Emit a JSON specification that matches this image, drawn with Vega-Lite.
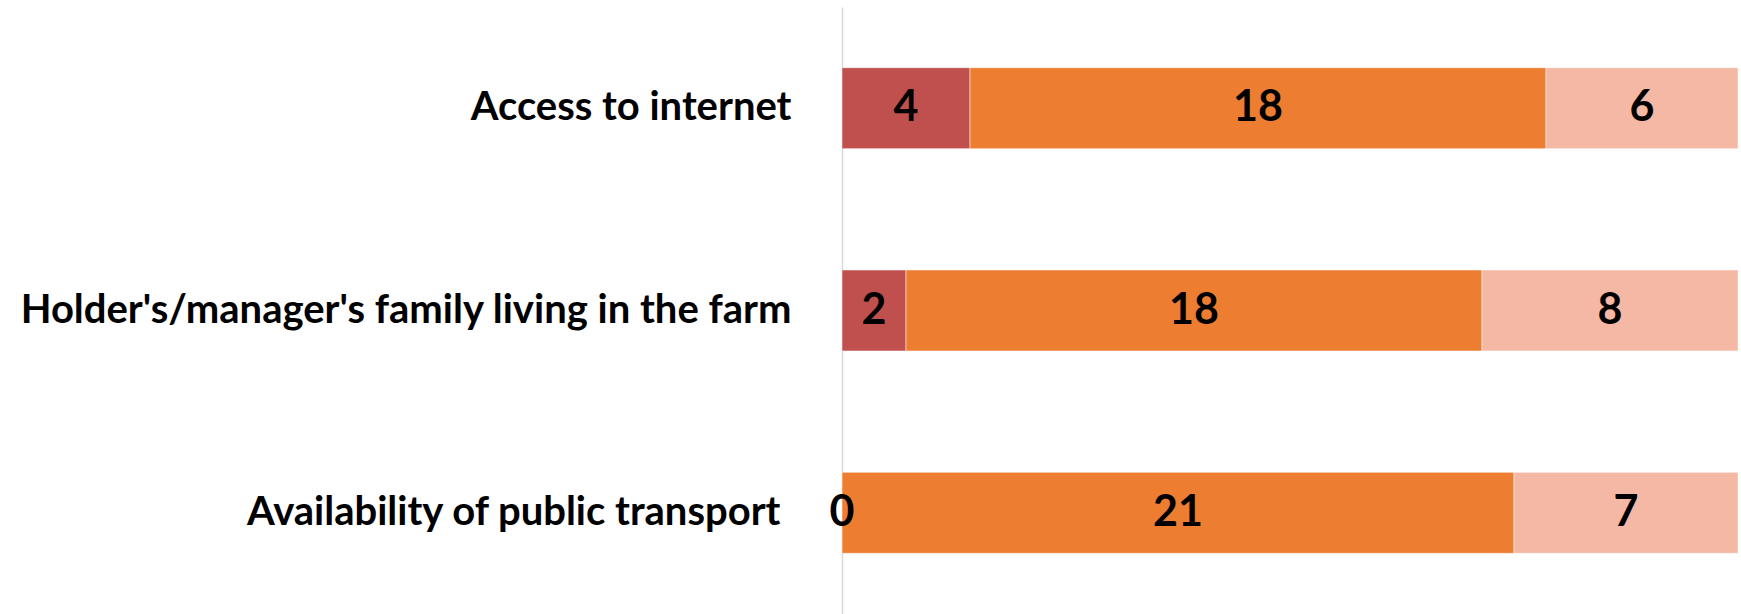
{
  "$schema": "https://vega.github.io/schema/vega-lite/v6.json",
  "autosize": "none",
  "width": 896,
  "height": 607,
  "padding": {"left": 842, "top": 7, "right": 3, "bottom": 0},
  "background": "#FFFFFF",
  "config": {"view": {"stroke": null}},
  "data": {
    "values": [
      {"item": "Access to internet", "series": "A", "order": 1, "value": 4},
      {"item": "Access to internet", "series": "B", "order": 2, "value": 18},
      {"item": "Access to internet", "series": "C", "order": 3, "value": 6},
      {"item": "Holder's/manager's family living in the farm", "series": "A", "order": 1, "value": 2},
      {"item": "Holder's/manager's family living in the farm", "series": "B", "order": 2, "value": 18},
      {"item": "Holder's/manager's family living in the farm", "series": "C", "order": 3, "value": 8},
      {"item": "Availability of public transport", "series": "A", "order": 1, "value": 0},
      {"item": "Availability of public transport", "series": "B", "order": 2, "value": 21},
      {"item": "Availability of public transport", "series": "C", "order": 3, "value": 7}
    ]
  },
  "transform": [
    {"stack": "value", "groupby": ["item"], "sort": [{"field": "order"}], "as": ["v0", "v1"]},
    {"calculate": "(datum.v0 + datum.v1) / 2", "as": "mid"}
  ],
  "encoding": {
    "y": {
      "field": "item",
      "type": "nominal",
      "sort": ["Access to internet", "Holder's/manager's family living in the farm", "Availability of public transport"],
      "scale": {"paddingInner": 0.6, "paddingOuter": 0.3},
      "axis": {
        "title": null,
        "ticks": false,
        "domainColor": "#D9D9D9",
        "domainWidth": 1.5,
        "labelFont": "Lato",
        "labelFontWeight": "bold",
        "labelFontSize": 40,
        "labelColor": "#000000",
        "labelLimit": 0,
        "labelPadding": {"condition": {"test": "datum.value === 'Availability of public transport'", "value": 62}, "value": 51}
      }
    }
  },
  "layer": [
    {
      "mark": {"type": "bar", "stroke": "#FFFFFF", "strokeWidth": 0.5},
      "encoding": {
        "x": {"field": "v0", "type": "quantitative", "scale": {"domain": [0, 28], "nice": false, "zero": true}, "axis": null},
        "x2": {"field": "v1"},
        "color": {
          "field": "series",
          "type": "nominal",
          "scale": {"domain": ["A", "B", "C"], "range": ["#C0504D", "#ED7D31", "#F4B8A5"]},
          "legend": null
        }
      }
    },
    {
      "mark": {"type": "text", "font": "Lato", "fontWeight": "bold", "fontSize": 43, "color": "#000000", "align": "center", "baseline": "middle"},
      "encoding": {
        "x": {"field": "mid", "type": "quantitative"},
        "text": {"field": "value", "type": "quantitative"}
      }
    }
  ]
}
